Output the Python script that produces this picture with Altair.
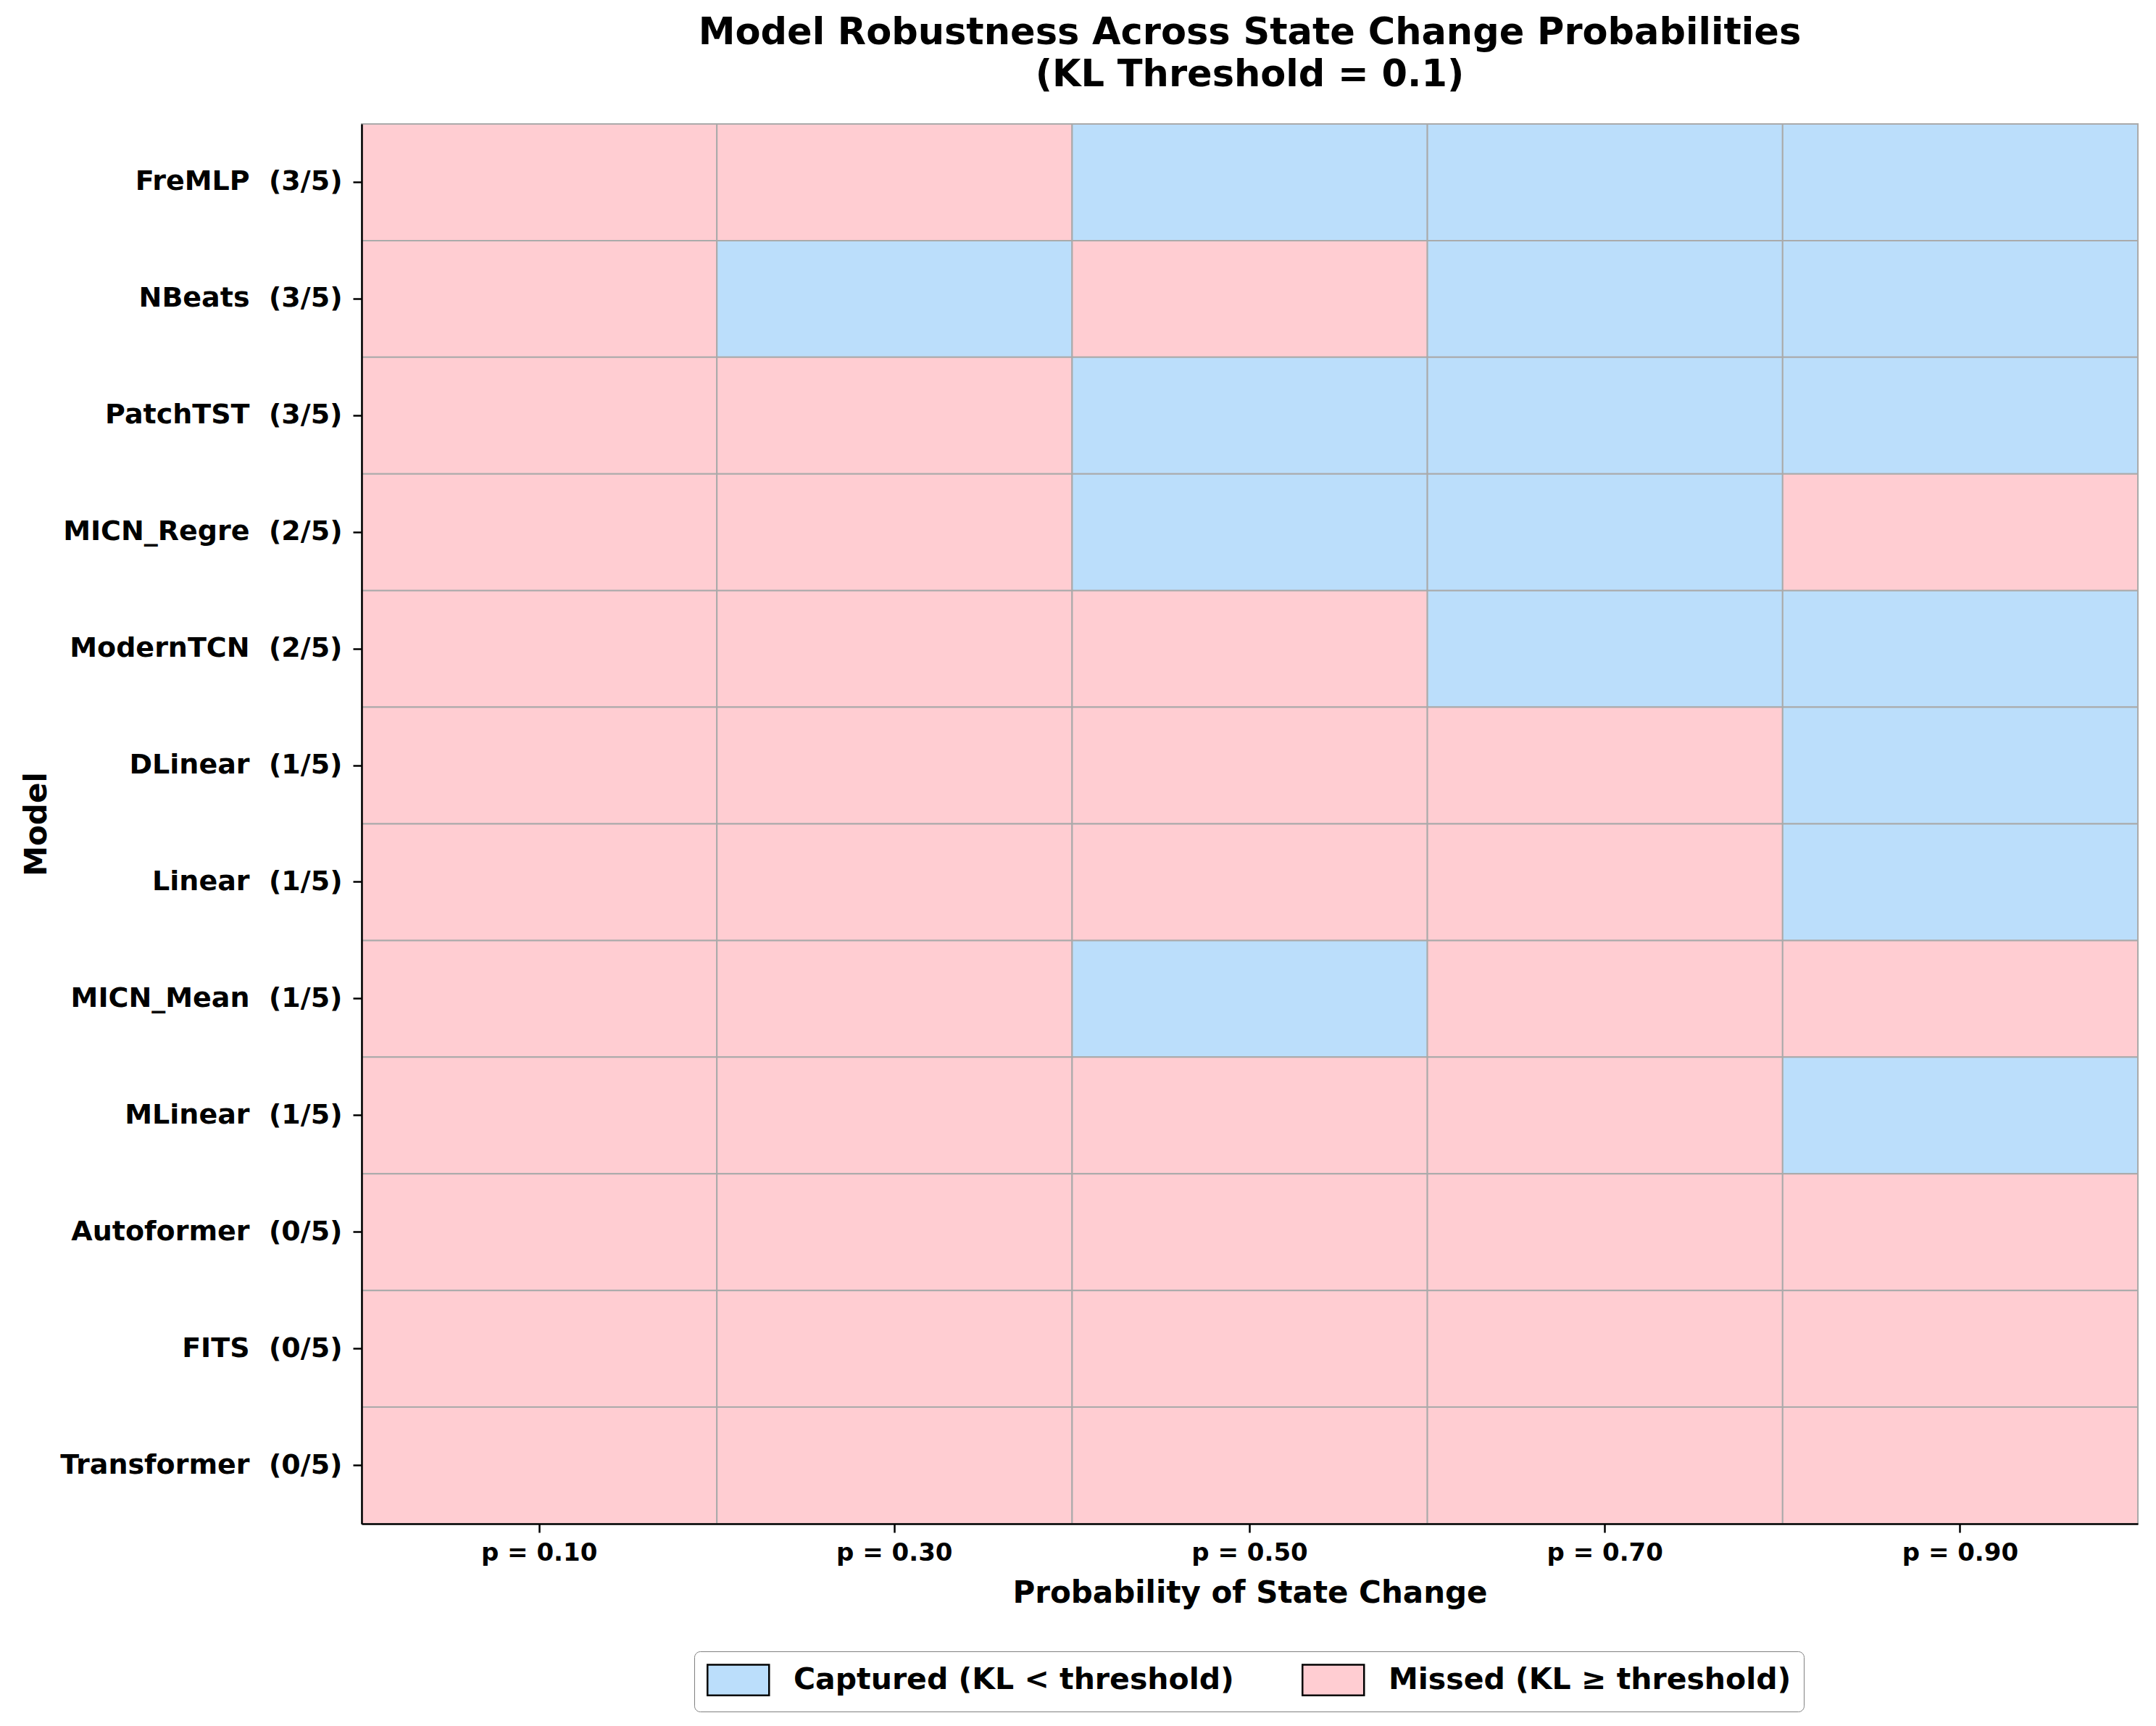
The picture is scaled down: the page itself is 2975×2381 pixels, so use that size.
import altair as alt
import pandas as pd

models = ["FreMLP", "NBeats", "PatchTST", "MICN_Regre", "ModernTCN", "DLinear",
          "Linear", "MICN_Mean", "MLinear", "Autoformer", "FITS", "Transformer"]
p_labels = ["p = 0.10", "p = 0.30", "p = 0.50", "p = 0.70", "p = 0.90"]
# 1 = captured (KL < threshold), 0 = missed
captured = [
    [0, 0, 1, 1, 1],
    [0, 1, 0, 1, 1],
    [0, 0, 1, 1, 1],
    [0, 0, 1, 1, 0],
    [0, 0, 0, 1, 1],
    [0, 0, 0, 0, 1],
    [0, 0, 0, 0, 1],
    [0, 0, 1, 0, 0],
    [0, 0, 0, 0, 1],
    [0, 0, 0, 0, 0],
    [0, 0, 0, 0, 0],
    [0, 0, 0, 0, 0],
]
status_names = ["Captured (KL < threshold)", "Missed (KL \u2265 threshold)"]
status_colors = ["#BBDEFB", "#FFCDD2"]

rows = []
labels = []
for m, vals in zip(models, captured):
    lab = f"{m}\u00a0 ({sum(vals)}/{len(vals)})"
    labels.append(lab)
    for p, v in zip(p_labels, vals):
        rows.append({"model": lab, "p": p,
                     "status": status_names[0] if v else status_names[1]})
df = pd.DataFrame(rows)

FONT = "DejaVu Sans"
W, H = 2451, 1931

chart = alt.Chart(df).mark_rect(stroke="#aaaaaa", strokeWidth=2).encode(
    x=alt.X("p:N", sort=p_labels,
            axis=alt.Axis(title="Probability of State Change", labelAngle=0,
                          labelFont=FONT, labelFontSize=34, labelFontWeight="bold",
                          labelColor="black", labelPadding=11, labelLimit=0,
                          titleFont=FONT, titleFontSize=42, titleFontWeight="bold",
                          titleColor="black", titleBaseline="alphabetic", titleY=108,
                          domainColor="black", domainWidth=2.5,
                          tickColor="black", tickWidth=2.5, tickSize=12, grid=False)),
    y=alt.Y("model:N", sort=labels,
            axis=alt.Axis(title="Model",
                          labelFont=FONT, labelFontSize=38, labelFontWeight="bold",
                          labelColor="black", labelPadding=15, labelLimit=0,
                          titleFont=FONT, titleFontSize=42, titleFontWeight="bold",
                          titleColor="black", titleBaseline="alphabetic",
                          titleAngle=270, titleX=-436, titleY=H / 2, titleAlign="center",
                          domainColor="black", domainWidth=2.5,
                          tickColor="black", tickWidth=2.5, tickSize=12, grid=False)),
    color=alt.Color("status:N",
                    scale=alt.Scale(domain=status_names, range=status_colors),
                    legend=alt.Legend(title=None, orient="none", direction="horizontal",
                                      legendX=459, legendY=2107,
                                      symbolType="M-1,-1H3V1H-1Z", symbolSize=1806,
                                      symbolStrokeColor="black", symbolStrokeWidth=2.5,
                                      symbolOpacity=1,
                                      labelFont=FONT, labelFontSize=41, labelFontWeight="bold",
                                      labelColor="black", labelOffset=75, labelLimit=0,
                                      columnPadding=89, padding=17,
                                      strokeColor="#808080",
                                      cornerRadius=8, fillColor="white")),
).properties(
    width=W, height=H,
    title=alt.TitleParams(
        text=["Model Robustness Across State Change Probabilities", "(KL Threshold = 0.1)"],
        font=FONT, fontSize=51, fontWeight="bold", color="black",
        anchor="middle", frame="group", lineHeight=58, baseline="alphabetic",
        offset=49, dy=49),
    padding={"left": 499, "top": 171, "right": 24, "bottom": 279},
    autosize=alt.AutoSizeParams(type="none"),
).configure_view(stroke=None).configure_legend(strokeWidth=2.5).configure(background="white")

chart.save("out.html", embed_options={"renderer": "svg", "actions": False})
